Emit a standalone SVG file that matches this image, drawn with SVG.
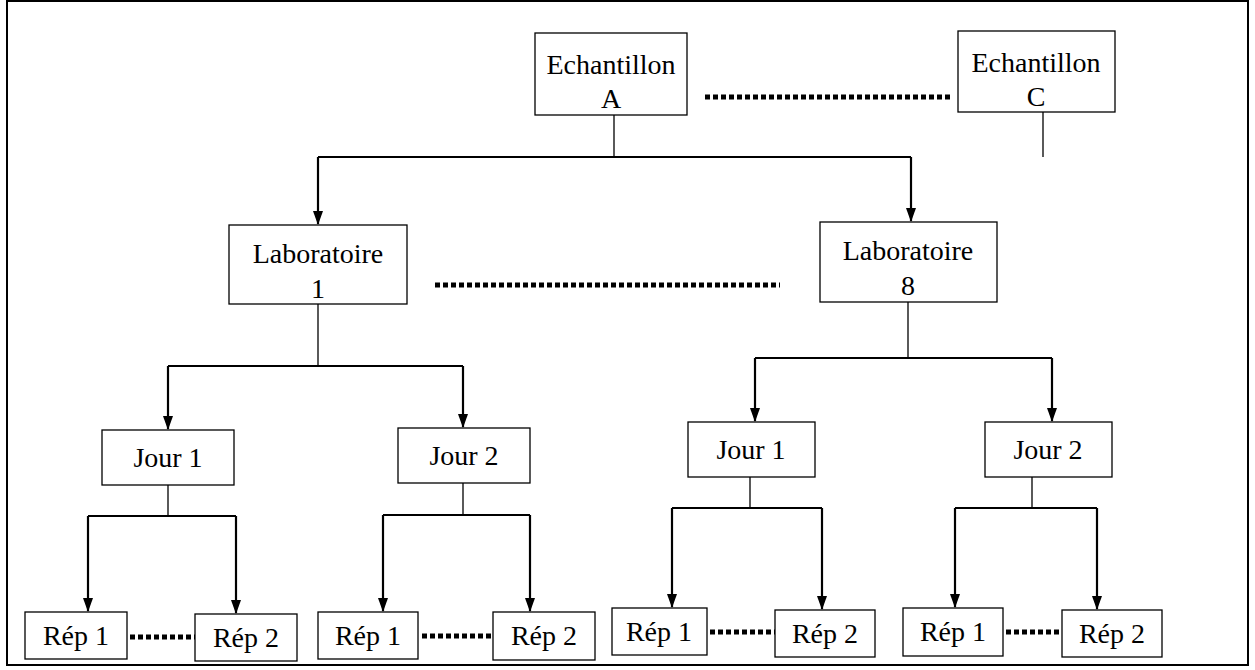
<svg xmlns="http://www.w3.org/2000/svg" width="1255" height="670" viewBox="0 0 1255 670">
<defs>
<marker id="ah" markerWidth="14" markerHeight="10" refX="13" refY="5" orient="auto" markerUnits="userSpaceOnUse" viewBox="0 0 14 10">
<path d="M0,0 L14,5 L0,10 Z" fill="#000"/>
</marker>
<style>
.box{fill:#fff;stroke:#000;stroke-width:1.3}
.t{font-family:"Liberation Serif","Times New Roman",serif;font-size:28px;fill:#000;text-anchor:middle}
.ln{fill:none;stroke:#000;stroke-width:1.3}
.arr{fill:none;stroke:#000;stroke-width:2.2}
.dot{fill:none;stroke:#000;stroke-width:5;stroke-dasharray:5 3}
</style>
</defs>
<rect x="0" y="0" width="1255" height="670" fill="#fff"/>
<rect x="7" y="1" width="1241" height="664" fill="none" stroke="#000" stroke-width="2"/>
<g id="connectors">
<line class="dot" x1="705" y1="97" x2="950" y2="97"/>
<line class="dot" x1="435" y1="285" x2="780" y2="285"/>
<line class="dot" x1="130" y1="637" x2="195" y2="637"/>
<line class="dot" x1="422" y1="636" x2="493" y2="636"/>
<line class="dot" x1="710" y1="632" x2="775" y2="632"/>
<line class="dot" x1="1006" y1="632" x2="1062" y2="632"/>
<line class="ln" x1="1043" y1="112" x2="1043" y2="157"/>
<line class="ln" x1="614" y1="115" x2="614" y2="157"/>
<polyline class="arr" points="318,157 911,157"/>
<line class="arr" x1="318" y1="157" x2="318" y2="224" marker-end="url(#ah)"/>
<line class="arr" x1="911" y1="157" x2="911" y2="221" marker-end="url(#ah)"/>
<line class="ln" x1="318" y1="304" x2="318" y2="366"/>
<polyline class="arr" points="168,366 463,366"/>
<line class="arr" x1="168" y1="366" x2="168" y2="429" marker-end="url(#ah)"/>
<line class="arr" x1="463" y1="366" x2="463" y2="427" marker-end="url(#ah)"/>
<line class="ln" x1="908" y1="302" x2="908" y2="358"/>
<polyline class="arr" points="755,358 1052,358"/>
<line class="arr" x1="755" y1="358" x2="755" y2="421" marker-end="url(#ah)"/>
<line class="arr" x1="1052" y1="358" x2="1052" y2="421" marker-end="url(#ah)"/>
<line class="ln" x1="168" y1="485" x2="168" y2="516"/>
<polyline class="arr" points="88,516 236,516"/>
<line class="arr" x1="88" y1="516" x2="88" y2="611" marker-end="url(#ah)"/>
<line class="arr" x1="236" y1="516" x2="236" y2="613" marker-end="url(#ah)"/>
<line class="ln" x1="463" y1="483" x2="463" y2="515"/>
<polyline class="arr" points="383,515 530,515"/>
<line class="arr" x1="383" y1="515" x2="383" y2="611" marker-end="url(#ah)"/>
<line class="arr" x1="530" y1="515" x2="530" y2="611" marker-end="url(#ah)"/>
<line class="ln" x1="750" y1="477" x2="750" y2="508"/>
<polyline class="arr" points="672,508 822,508"/>
<line class="arr" x1="672" y1="508" x2="672" y2="607" marker-end="url(#ah)"/>
<line class="arr" x1="822" y1="508" x2="822" y2="609" marker-end="url(#ah)"/>
<line class="ln" x1="1032" y1="477" x2="1032" y2="508"/>
<polyline class="arr" points="955,508 1097,508"/>
<line class="arr" x1="955" y1="508" x2="955" y2="607" marker-end="url(#ah)"/>
<line class="arr" x1="1097" y1="508" x2="1097" y2="609" marker-end="url(#ah)"/>
</g>
<g id="echA"><rect class="box" x="535" y="33" width="152" height="82"/><text class="t" x="611" y="74">Echantillon</text><text class="t" x="611" y="108">A</text></g>
<g id="echC"><rect class="box" x="958" y="31" width="157" height="81"/><text class="t" x="1036" y="72">Echantillon</text><text class="t" x="1036" y="106">C</text></g>
<g id="lab1"><rect class="box" x="229" y="225" width="178" height="79"/><text class="t" x="318" y="263">Laboratoire</text><text class="t" x="318" y="298">1</text></g>
<g id="lab8"><rect class="box" x="820" y="222" width="177" height="80"/><text class="t" x="908" y="260">Laboratoire</text><text class="t" x="908" y="295">8</text></g>
<g id="j1a"><rect class="box" x="102" y="430" width="132" height="55"/><text class="t" x="168" y="467">Jour 1</text></g>
<g id="j2a"><rect class="box" x="398" y="428" width="132" height="55"/><text class="t" x="464" y="465">Jour 2</text></g>
<g id="j1b"><rect class="box" x="688" y="422" width="127" height="55"/><text class="t" x="751" y="459">Jour 1</text></g>
<g id="j2b"><rect class="box" x="985" y="422" width="127" height="55"/><text class="t" x="1048" y="459">Jour 2</text></g>
<g id="r1a"><rect class="box" x="25" y="612" width="102" height="47"/><text class="t" x="76" y="645">Rép 1</text></g>
<g id="r2a"><rect class="box" x="195" y="614" width="102" height="47"/><text class="t" x="246" y="647">Rép 2</text></g>
<g id="r1b"><rect class="box" x="318" y="612" width="100" height="47"/><text class="t" x="368" y="645">Rép 1</text></g>
<g id="r2b"><rect class="box" x="493" y="612" width="102" height="48"/><text class="t" x="544" y="645">Rép 2</text></g>
<g id="r1c"><rect class="box" x="612" y="608" width="95" height="47"/><text class="t" x="659" y="641">Rép 1</text></g>
<g id="r2c"><rect class="box" x="775" y="610" width="100" height="47"/><text class="t" x="825" y="643">Rép 2</text></g>
<g id="r1d"><rect class="box" x="903" y="608" width="100" height="48"/><text class="t" x="953" y="641">Rép 1</text></g>
<g id="r2d"><rect class="box" x="1062" y="610" width="100" height="47"/><text class="t" x="1112" y="643">Rép 2</text></g>
</svg>
